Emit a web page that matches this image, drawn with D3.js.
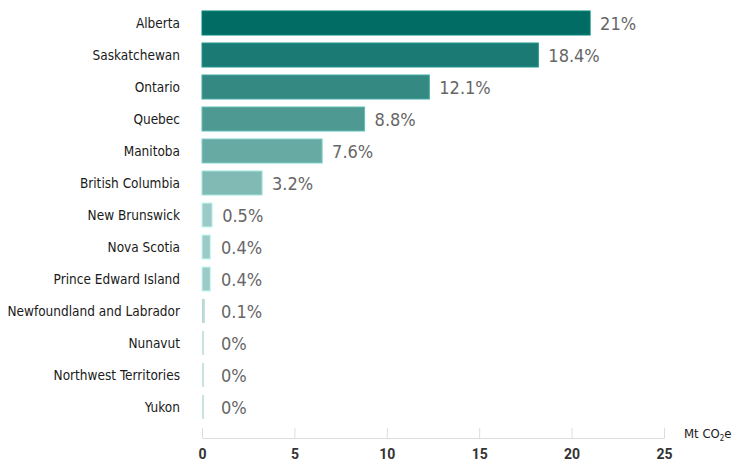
<!DOCTYPE html>
<html>
<head>
<meta charset="utf-8">
<script src="https://cdn.jsdelivr.net/npm/d3@7"></script>
<style>
  body { margin: 0; background: #fff; }
  svg { display: block; }
  .cat { font-family: 'DejaVu Sans', sans-serif; font-stretch: condensed; font-size: 13.5px; fill: #1a1a1a; }
  .val { font-family: 'DejaVu Sans', sans-serif; font-stretch: condensed; font-size: 18px; fill: #666; }
  .tick text { font-family: 'Roboto', sans-serif; font-size: 14px; font-weight: bold; fill: #333; }
  .unit { font-family: 'DejaVu Sans', sans-serif; font-stretch: condensed; font-size: 13px; fill: #1a1a1a; }
</style>
</head>
<body>
<svg id="svg" width="734" height="461"></svg>
<script>
// provinces, top to bottom
const provinces = ['Alberta', 'Saskatchewan', 'Ontario', 'Quebec', 'Manitoba', 'British Columbia',
  'New Brunswick', 'Nova Scotia', 'Prince Edward Island', 'Newfoundland and Labrador',
  'Nunavut', 'Northwest Territories', 'Yukon'];
// bar lengths in Mt CO2e
const values = [21, 18.2, 12.3, 8.8, 6.5, 3.25, 0.55, 0.45, 0.45, 0.15, 0, 0, 0];
// labels printed next to the bars
const shareLabels = ['21%', '18.4%', '12.1%', '8.8%', '7.6%', '3.2%', '0.5%', '0.4%', '0.4%', '0.1%', '0%', '0%', '0%'];
const xTicks = [0, 5, 10, 15, 20, 25];

const palette = ['#006c63', '#1b7a73', '#348983', '#4e9a93', '#67a9a3', '#81b9b4',
  '#9dcac6', '#9dcac6', '#9dcac6', '#b9d9d6', '#c9e2e0', '#c9e2e0', '#c9e2e0'];

const svg = d3.select('#svg');

const x = d3.scaleLinear().domain([0, 25]).range([202, 664]);
const y = d3.scaleBand().domain(provinces).range([7, 423]).paddingInner(0.25).paddingOuter(0.125);

// axis at bottom, ticks pointing up
const axisY = 438;
const xAxis = d3.axisBottom(x).tickValues(xTicks).tickSize(0).tickPadding(11);
const gx = svg.append('g')
  .attr('transform', 'translate(0,' + axisY + ')')
  .call(xAxis);
gx.select('.domain').attr('stroke', '#ddd');
gx.selectAll('.tick').append('line')
  .attr('y1', 0)
  .attr('y2', -10)
  .attr('stroke', '#ddd');

svg.append('text')
  .attr('class', 'unit')
  .attr('x', 684)
  .attr('y', axisY)
  .html('Mt CO<tspan font-size="8" dy="3">2</tspan><tspan dy="-3">e</tspan>');

const rows = svg.append('g')
  .selectAll('g')
  .data(provinces)
  .join('g');

rows.append('rect')
  .attr('x', x(0))
  .attr('y', (d) => y(d))
  .attr('width', (d, i) => Math.max(x(values[i]) - x(0), 2))
  .attr('height', y.bandwidth())
  .attr('fill', (d, i) => palette[i])
  .attr('stroke', (d, i) => d3.color(palette[i]).brighter(0.6))
  .attr('stroke-width', (d, i) => (values[i] > 0.3 ? 1 : 0));

rows.append('text')
  .attr('class', 'cat')
  .attr('x', 180)
  .attr('y', (d) => y(d) + y.bandwidth() / 2)
  .attr('dy', '0.35em')
  .attr('text-anchor', 'end')
  .text((d) => d);

rows.append('text')
  .attr('class', 'val')
  .attr('x', (d, i) => Math.max(x(values[i]) + 10, x(0) + 19))
  .attr('y', (d) => y(d) + y.bandwidth() / 2)
  .attr('dy', '0.38em')
  .text((d, i) => shareLabels[i]);
</script>
</body>
</html>
